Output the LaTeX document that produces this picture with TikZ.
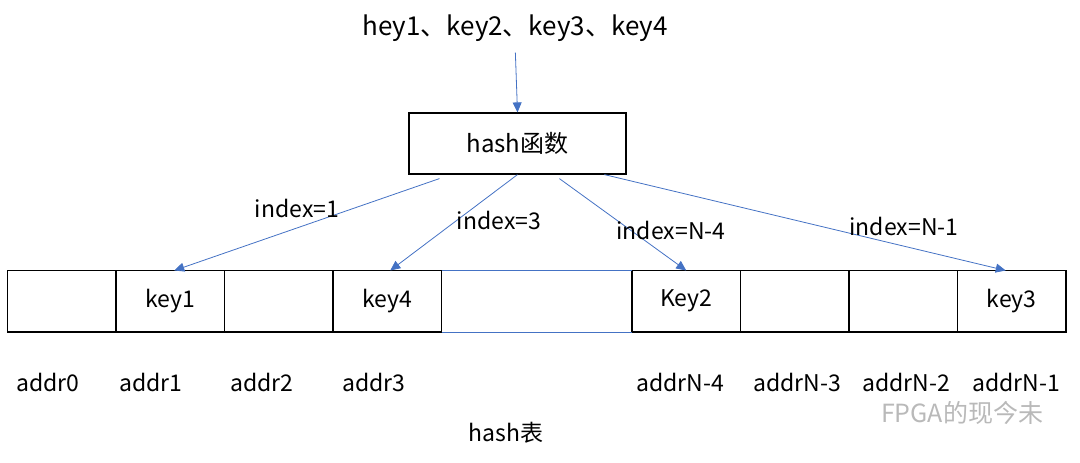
\documentclass[tikz,border=0pt]{standalone}
\usepackage{fontspec}
\setmainfont{Noto Sans CJK SC}
\usetikzlibrary{arrows.meta,calc}
\definecolor{linkblue}{HTML}{4472C4}

\tikzset{
  txt/.style={font=\fontsize{23}{26}\selectfont, inner sep=1pt},
  slot/.style={draw, line width=1.2pt, minimum width=108.5pt, minimum height=61.5pt, inner sep=0pt, outer sep=0pt, txt},
  hashbox/.style={draw, line width=1.2pt, minimum width=217pt, minimum height=61pt, inner sep=0pt, txt, font=\fontsize{24}{28}\selectfont},
  link/.style={linkblue, line width=0.8pt, -{Triangle[length=10pt,width=9pt]}},
}

\begin{document}
\begin{tikzpicture}[x=1pt, y=-1pt]
    \useasboundingbox (0,0) rectangle (1080,463);

    \node[txt, font=\fontsize{26}{30}\selectfont] (keys) at (515,28) {hey1、key2、key3、key4};
    \node[hashbox] (hashfn) at (517.5,143.5) {hash函数};

    % hash table slots
    \node[slot] (s0) at (61.75,301.25) {};
    \node[slot] (s1) at (170.25,301.25) {key1};
    \node[slot] (s2) at (278.75,301.25) {};
    \node[slot] (s3) at (387.25,301.25) {key4};
    \node[slot] (s4) at (686.25,301.25) {Key2};
    \node[slot] (s5) at (794.75,301.25) {};
    \node[slot] (s6) at (903.25,301.25) {};
    \node[slot] (s7) at (1011.75,301.25) {key3};

    \draw[linkblue, line width=0.8pt] (s3.north east) -- (s4.north west);
    \draw[linkblue, line width=0.8pt] (s3.south east) -- (s4.south west);

    \foreach \name/\x/\lbl in {a0/48/addr0, a1/151/addr1, a2/262/addr2, a3/374/addr3,
                               a4/680/addrN-4, a5/797/addrN-3, a6/906/addrN-2, a7/1016/addrN-1}
        \node[txt] (\name) at (\x,382) {\lbl};

    \node[txt] (table) at (506,433) {hash表};

    \draw[link, shorten <=10pt] (keys.south) -- (hashfn.north);

    \coordinate (o1) at ($(hashfn.south west)+(31,4)$);
    \coordinate (o3) at ($(hashfn.south west)+(151,4)$);
    \coordinate (o4) at ($(hashfn.south west)+(196,0)$);

    \draw[link] (o1) -- ($(s1.north)+(4,0)$);
    \draw[link] (hashfn.south) -- ($(s3.north)+(3,0)$);
    \draw[link] (o3) -- (s4.north);
    \draw[link] (o4) -- ($(s7.north)+(-6,0)$);

    \node[txt] (i1) at (297,208) {index=1};
    \node[txt] (i2) at (499,220) {index=3};
    \node[txt] (i3) at (671,230) {index=N-4};
    \node[txt] (i4) at (904,226) {index=N-1};

    \node[txt, gray!55, font=\fontsize{25}{28}\selectfont] (mark) at (962,413) {FPGA的现今未};
\end{tikzpicture}
\end{document}
